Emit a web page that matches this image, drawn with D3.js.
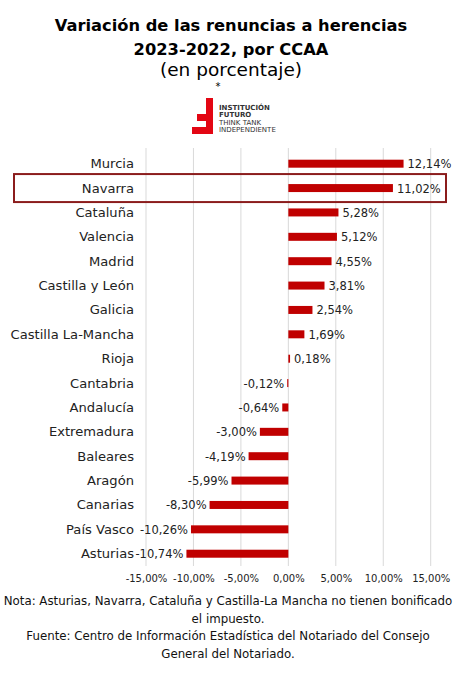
<!DOCTYPE html>
<html>
<head>
<meta charset="utf-8">
<title>Renuncias a herencias</title>
<script src="https://cdn.jsdelivr.net/npm/d3@7"></script>
<style>
*{ margin: 0; padding: 0; }
body{ background: #fff; }
svg{ display: block; font-family: "DejaVu Sans", sans-serif; }
</style>
</head>
<body>
<script>

	var width = 456;
	var height = 686;

	// datos
	var categories = ["Murcia","Navarra","Cataluña","Valencia","Madrid","Castilla y León","Galicia",
		"Castilla La-Mancha","Rioja","Cantabria","Andalucía","Extremadura","Baleares","Aragón",
		"Canarias","País Vasco","Asturias"];
	var values = [12.14, 11.02, 5.28, 5.12, 4.55, 3.81, 2.54, 1.69, 0.18, -0.12, -0.64,
		-3.00, -4.19, -5.99, -8.30, -10.26, -10.74];
	var tickValues = [-15, -10, -5, 0, 5, 10, 15];
	var highlight = "Navarra";

	var titleLines = ["Variación de las renuncias a herencias", "2023-2022, por CCAA"];
	var subtitle = "(en porcentaje)";
	var notes = ["Nota: Asturias, Navarra, Cataluña y Castilla-La Mancha no tienen bonificado",
		"el impuesto.",
		"Fuente: Centro de Información Estadística del Notariado del Consejo",
		"General del Notariado."];

	var data = categories.map((c, i) => ({name: c, value: values[i]}));

	var pct = (v) => d3.format(".2f")(v).replace(".", ",").replace("−", "-") + "%";

	var svg = d3.select("body")
				.append("svg")
				.attr("width", width)
				.attr("height", height);

	// titulo
	svg.selectAll("text.title").data(titleLines).enter().append("text")
		.attr("class", "title")
		.attr("x", 231)
		.attr("y", (d, i) => 31 + i * 23.5)
		.attr("text-anchor", "middle")
		.attr("font-weight", "bold")
		.attr("font-size", 16.3)
		.attr("fill", "#000")
		.text((d) => d);

	svg.append("text")
		.attr("x", 231)
		.attr("y", 76)
		.attr("text-anchor", "middle")
		.attr("font-size", 18.5)
		.attr("fill", "#000")
		.text(subtitle);

	svg.append("text")
		.attr("x", 218)
		.attr("y", 90)
		.attr("text-anchor", "middle")
		.attr("font-size", 10)
		.text("*");

	// logo
	var logo = svg.append("g").attr("class", "logo");
	logo.append("path")
		.attr("d", "M206,98 H213 V134 H192 V127 H206 V121 H197 V114 H206 Z")
		.attr("fill", "#e30613");
	var logoText = [["INSTITUCIÓN", "bold"], ["FUTURO", "bold"], ["THINK TANK", "normal"], ["INDEPENDIENTE", "normal"]];
	logo.selectAll("text").data(logoText).enter().append("text")
		.attr("x", 219)
		.attr("y", (d, i) => 109.5 + i * 7.6)
		.attr("font-size", 7)
		.attr("font-weight", (d) => d[1])
		.attr("fill", "#333")
		.text((d) => d[0]);

	// escalas
	var x = d3.scaleLinear().domain([-15, 15]).range([146, 430.7]);
	var y = d3.scaleBand().domain(categories).range([151.5, 565.9])
		.paddingInner(0.672).paddingOuter(0.336);

	// rejilla
	svg.append("g").selectAll("line").data(tickValues).enter().append("line")
		.attr("x1", (d) => x(d)).attr("x2", (d) => x(d))
		.attr("y1", 148).attr("y2", 566)
		.attr("stroke", "#d9d9d9")
		.attr("stroke-width", 1);

	// eje x
	var xAxis = svg.append("g")
		.attr("transform", "translate(0,575)")
		.call(d3.axisBottom(x).tickValues(tickValues).tickSize(0).tickPadding(0).tickFormat(pct));
	xAxis.select(".domain").remove();
	xAxis.selectAll("text")
		.attr("font-size", 10)
		.attr("font-family", "DejaVu Sans, sans-serif")
		.attr("fill", "#222");

	// barras
	svg.append("g").selectAll("rect").data(data).enter().append("rect")
		.attr("x", (d) => x(Math.min(0, d.value)))
		.attr("y", (d) => y(d.name))
		.attr("width", (d) => Math.abs(x(d.value) - x(0)))
		.attr("height", y.bandwidth())
		.attr("fill", "#c00000");

	// etiquetas de categoria
	svg.append("g").selectAll("text").data(data).enter().append("text")
		.attr("x", 134)
		.attr("y", (d) => y(d.name) + y.bandwidth() / 2 + 4.5)
		.attr("text-anchor", "end")
		.attr("font-size", 13.1)
		.attr("fill", "#222")
		.text((d) => d.name);

	// etiquetas de valor
	svg.append("g").selectAll("text").data(data).enter().append("text")
		.attr("x", (d) => d.value >= 0 ? x(d.value) + 4 : x(d.value) - 3)
		.attr("y", (d) => y(d.name) + y.bandwidth() / 2 + 4.5)
		.attr("text-anchor", (d) => d.value >= 0 ? "start" : "end")
		.attr("font-size", 11.5)
		.attr("fill", "#222")
		.text((d) => pct(d.value));

	// recuadro Navarra
	svg.append("rect")
		.attr("x", 14)
		.attr("y", y(highlight) + y.bandwidth() / 2 - 14)
		.attr("width", 432)
		.attr("height", 28)
		.attr("fill", "none")
		.attr("stroke", "#8b1c1c")
		.attr("stroke-width", 2);

	// notas
	svg.selectAll("text.note").data(notes).enter().append("text")
		.attr("class", "note")
		.attr("x", 228)
		.attr("y", (d, i) => 605 + i * 17.7)
		.attr("text-anchor", "middle")
		.attr("font-size", 11.8)
		.attr("fill", "#111")
		.text((d) => d);

</script>
</body>
</html>
